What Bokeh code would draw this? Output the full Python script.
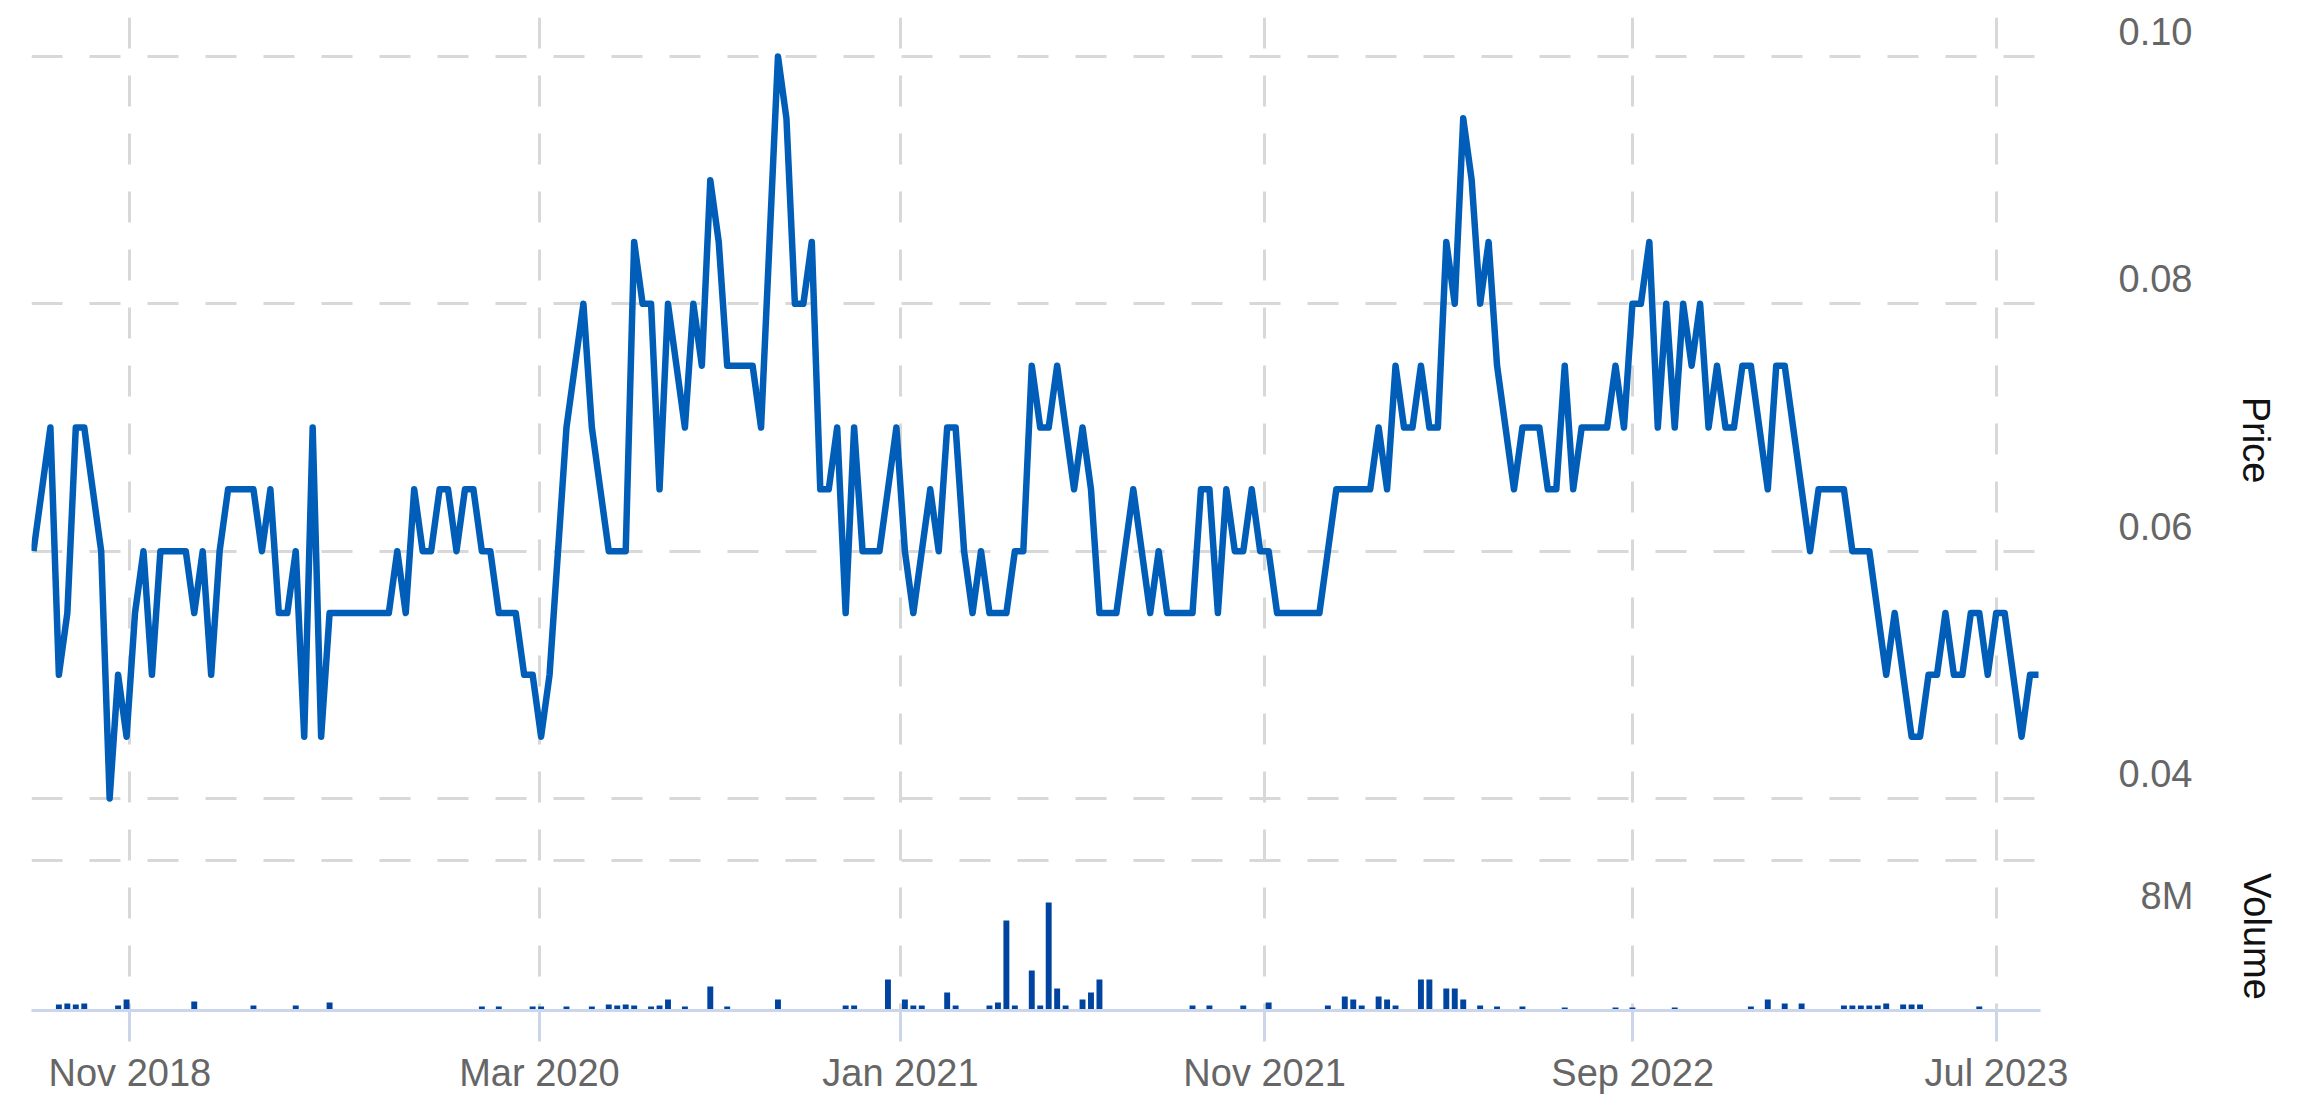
from bokeh.plotting import figure
from bokeh.layouts import column
from bokeh.models import FixedTicker, CustomJSTickFormatter, Range1d, Grid
from bokeh.embed import file_html
from bokeh.resources import INLINE

# ---------------- data ----------------
price = [
    0.060, 0.065, 0.070, 0.050, 0.055, 0.070, 0.070, 0.065, 0.060, 0.040,
    0.050, 0.045, 0.055, 0.060, 0.050, 0.060, 0.060, 0.060, 0.060, 0.055,
    0.060, 0.050, 0.060, 0.065, 0.065, 0.065, 0.065, 0.060, 0.065, 0.055,
    0.055, 0.060, 0.045, 0.070, 0.045, 0.055, 0.055, 0.055, 0.055, 0.055,
    0.055, 0.055, 0.055, 0.060, 0.055, 0.065, 0.060, 0.060, 0.065, 0.065,
    0.060, 0.065, 0.065, 0.060, 0.060, 0.055, 0.055, 0.055, 0.050, 0.050,
    0.045, 0.050, 0.060, 0.070, 0.075, 0.080, 0.070, 0.065, 0.060, 0.060,
    0.060, 0.085, 0.080, 0.080, 0.065, 0.080, 0.075, 0.070, 0.080, 0.075,
    0.090, 0.085, 0.075, 0.075, 0.075, 0.075, 0.070, 0.085, 0.100, 0.095,
    0.080, 0.080, 0.085, 0.065, 0.065, 0.070, 0.055, 0.070, 0.060, 0.060,
    0.060, 0.065, 0.070, 0.060, 0.055, 0.060, 0.065, 0.060, 0.070, 0.070,
    0.060, 0.055, 0.060, 0.055, 0.055, 0.055, 0.060, 0.060, 0.075, 0.070,
    0.070, 0.075, 0.070, 0.065, 0.070, 0.065, 0.055, 0.055, 0.055, 0.060,
    0.065, 0.060, 0.055, 0.060, 0.055, 0.055, 0.055, 0.055, 0.065, 0.065,
    0.055, 0.065, 0.060, 0.060, 0.065, 0.060, 0.060, 0.055, 0.055, 0.055,
    0.055, 0.055, 0.055, 0.060, 0.065, 0.065, 0.065, 0.065, 0.065, 0.070,
    0.065, 0.075, 0.070, 0.070, 0.075, 0.070, 0.070, 0.085, 0.080, 0.095,
    0.090, 0.080, 0.085, 0.075, 0.070, 0.065, 0.070, 0.070, 0.070, 0.065,
    0.065, 0.075, 0.065, 0.070, 0.070, 0.070, 0.070, 0.075, 0.070, 0.080,
    0.080, 0.085, 0.070, 0.080, 0.070, 0.080, 0.075, 0.080, 0.070, 0.075,
    0.070, 0.070, 0.075, 0.075, 0.070, 0.065, 0.075, 0.075, 0.070, 0.065,
    0.060, 0.065, 0.065, 0.065, 0.065, 0.060, 0.060, 0.060, 0.055, 0.050,
    0.055, 0.050, 0.045, 0.045, 0.050, 0.050, 0.055, 0.050, 0.050, 0.055,
    0.055, 0.050, 0.055, 0.055, 0.050, 0.045, 0.050, 0.050,
]

vol_index = [
    3, 4, 5, 6, 10, 11, 19, 26, 31, 35,
    53, 55, 59, 60, 63, 66, 68, 69, 70, 71,
    73, 74, 75, 77, 80, 82, 88, 96, 97, 101,
    103, 104, 105, 108, 109, 113, 114, 115, 116, 118,
    119, 120, 121, 122, 124, 125, 126, 137, 139, 143,
    146, 153, 155, 156, 157, 159, 160, 161, 164, 165,
    167, 168, 169, 171, 173, 176, 181, 187, 189, 194,
    203, 205, 207, 209, 214, 215, 216, 217, 218, 219,
    221, 222, 223, 230,
]
vol_millions = [
    0.53, 0.62, 0.53, 0.62, 0.44, 0.98, 0.80, 0.44, 0.44, 0.71,
    0.36, 0.36, 0.36, 0.36, 0.36, 0.36, 0.53, 0.44, 0.53, 0.44,
    0.36, 0.44, 0.98, 0.36, 2.13, 0.36, 0.98, 0.44, 0.44, 2.76,
    0.98, 0.44, 0.44, 1.60, 0.44, 0.44, 0.71, 8.00, 0.44, 3.56,
    0.44, 9.60, 1.96, 0.44, 0.98, 1.60, 2.76, 0.44, 0.44, 0.44,
    0.71, 0.44, 1.24, 0.98, 0.44, 1.24, 0.98, 0.44, 2.76, 2.76,
    1.96, 1.96, 0.98, 0.44, 0.36, 0.36, 0.27, 0.27, 0.27, 0.27,
    0.36, 0.98, 0.62, 0.62, 0.44, 0.44, 0.44, 0.44, 0.44, 0.62,
    0.53, 0.53, 0.53, 0.36,
]

date_tick_pos = [11.39, 59.81, 102.48, 145.53, 189.03, 232.03]
date_tick_labels = ["Nov 2018", "Mar 2020", "Jan 2021", "Nov 2021", "Sep 2022", "Jul 2023"]
price_ticks = [0.04, 0.06, 0.08, 0.10]
price_grid = [0.035, 0.04, 0.06, 0.08, 0.10]
volume_ticks = [8.0]  # millions

# ---------------- style / geometry ----------------
FONT = "Liberation Sans"
FS = "38px"
LINE_COLOR = "#005eb8"
BAR_COLOR = "#0044a0"
GRID_COLOR = "#d8d8d8"
AXIS_COLOR = "#ccd6eb"
LABEL_COLOR = "#666666"

PX_POINT = 8.46
FRAME_W = 2009
PRICE_H = 845
VOL_H = 148
PX_PER_PRICE = 12367.0
PX_PER_MILLION = 1.0 / 0.0889
LABEL_SHIFT = 25
LEFT = 31
TOP = 17

n = len(price)
pad = 2.0 / PX_POINT
x_range = Range1d(-pad, n - 1 + pad)
price_range = Range1d(0.04 - 64 / PX_PER_PRICE, 0.10 + 39 / PX_PER_PRICE)
vol_range = Range1d(0, VOL_H / PX_PER_MILLION)


def style_grid(g, dash_offset=0):
    g.grid_line_color = GRID_COLOR
    g.grid_line_width = 3
    g.grid_line_dash = "31 27"
    g.grid_line_dash_offset = dash_offset


def style_right_axis(ax, standoff, title):
    ax.major_tick_out = 0
    ax.major_tick_in = 0
    ax.minor_tick_out = 0
    ax.minor_tick_in = 0
    ax.axis_line_color = None
    ax.major_label_standoff = standoff
    ax.major_label_text_font = FONT
    ax.major_label_text_font_size = FS
    ax.major_label_text_color = LABEL_COLOR
    ax.axis_label = title
    ax.axis_label_text_font = FONT
    ax.axis_label_text_font_size = FS
    ax.axis_label_text_font_style = "normal"
    ax.axis_label_text_color = "#111111"
    ax.axis_label_standoff = 40


# ---------------- price pane ----------------
p1 = figure(frame_width=FRAME_W, frame_height=PRICE_H, x_range=x_range, y_range=price_range,
            output_backend="svg", toolbar_location=None, x_axis_location=None,
            y_axis_location="right", min_border_left=LEFT, min_border_top=TOP,
            min_border_bottom=0, min_border_right=0)
p1.outline_line_color = None
p1.center = [c for c in p1.center if not isinstance(c, Grid)]

g = Grid(dimension=1, ticker=FixedTicker(ticks=price_grid))
style_grid(g)
p1.add_layout(g, "center")
g = Grid(dimension=0, ticker=FixedTicker(ticks=date_tick_pos))
style_grid(g, 56)
p1.add_layout(g, "center")

p1.line(x=list(range(n)), y=price, line_color=LINE_COLOR, line_width=6.5, line_join="round")

shift_p = LABEL_SHIFT / PX_PER_PRICE
ay = p1.yaxis[0]
ay.ticker = FixedTicker(ticks=[t + shift_p for t in price_ticks])
ay.formatter = CustomJSTickFormatter(args=dict(s=shift_p), code="return (tick - s).toFixed(2);")
style_right_axis(ay, 78, "Price")

# ---------------- volume pane ----------------
p2 = figure(frame_width=FRAME_W, frame_height=VOL_H, x_range=x_range, y_range=vol_range,
            output_backend="svg", toolbar_location=None, x_axis_location="below",
            y_axis_location="right", min_border_left=LEFT, min_border_top=0,
            min_border_bottom=0, min_border_right=0)
p2.outline_line_color = None
p2.center = [c for c in p2.center if not isinstance(c, Grid)]
g = Grid(dimension=0, ticker=FixedTicker(ticks=date_tick_pos))
style_grid(g, 24)
p2.add_layout(g, "center")

p2.vbar(x=vol_index, top=vol_millions, width=0.7, fill_color=BAR_COLOR, line_color=None)

shift_v = LABEL_SHIFT / PX_PER_MILLION
av = p2.yaxis[0]
av.ticker = FixedTicker(ticks=[t + shift_v for t in volume_ticks])
av.formatter = CustomJSTickFormatter(args=dict(s=shift_v), code="return Math.round(tick - s) + 'M';")
style_right_axis(av, 100, "Volume")

ax = p2.xaxis[0]
ax.ticker = FixedTicker(ticks=date_tick_pos)
ax.formatter = CustomJSTickFormatter(args=dict(pos=date_tick_pos, lab=date_tick_labels), code="""
let best = 0, d = Infinity;
for (let i = 0; i < pos.length; i++) { const e = Math.abs(pos[i] - tick); if (e < d) { d = e; best = i; } }
return lab[best];
""")
ax.axis_line_color = AXIS_COLOR
ax.axis_line_width = 3
ax.major_tick_line_color = AXIS_COLOR
ax.major_tick_line_width = 3
ax.major_tick_out = 31
ax.major_tick_in = 0
ax.minor_tick_out = 0
ax.minor_tick_in = 0
ax.major_label_standoff = 10
ax.major_label_text_font = FONT
ax.major_label_text_font_size = FS
ax.major_label_text_color = LABEL_COLOR

layout = column(p1, p2, spacing=0)
open("out.html", "w").write(file_html(layout, INLINE))
